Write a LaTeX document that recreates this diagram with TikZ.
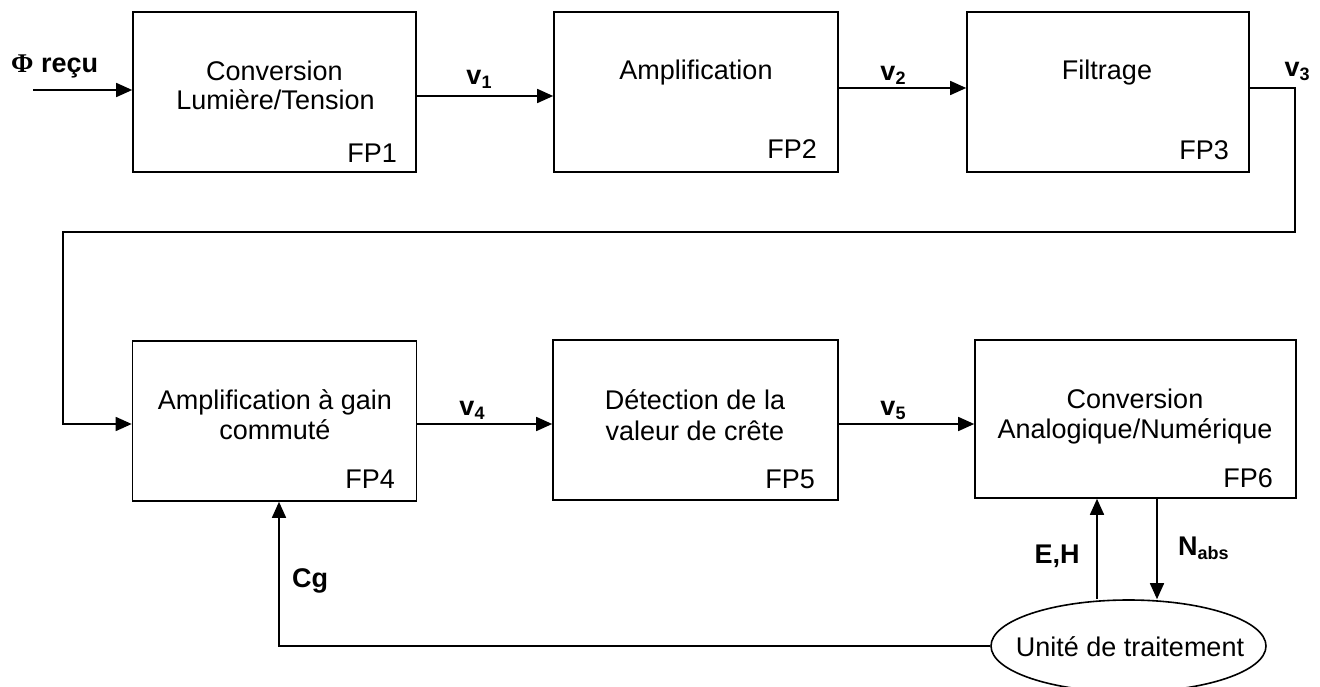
\documentclass[tikz,border=0pt]{standalone}
\usepackage{fontspec}
\setmainfont{Liberation Sans}
\newfontfamily\phifont{Liberation Serif}
\usetikzlibrary{arrows.meta,shapes.geometric}
\newcommand\sbs[1]{{\fontsize{18}{18}\selectfont\raisebox{-4pt}{#1}}}
\tikzset{
  blk/.style={draw, line width=1.6pt, inner sep=0pt, minimum height=160pt},
  txt/.style={font=\fontsize{27}{30}\selectfont, inner sep=0pt, anchor=base},
  fpl/.style={font=\fontsize{27}{30}\selectfont, inner sep=0pt, anchor=base east},
  lbl/.style={font=\fontsize{27}{30}\selectfont\bfseries, inner sep=0pt, anchor=base},
  wire/.style={line width=1.6pt},
  arr/.style={line width=1.6pt, -{Triangle[length=16pt,width=14pt]}},
}
\begin{document}
\begin{tikzpicture}[x=1pt,y=-1pt]
\useasboundingbox (0,0) rectangle (1320,687);
% blocks
\node[blk, minimum width=283pt] (fp1) at (274.5,92) {};
\node[blk, minimum width=284pt] (fp2) at (696,92) {};
\node[blk, minimum width=282pt] (fp3) at (1108,92) {};
\node[blk, minimum width=284pt] (fp4) at (274.5,421) {};
\node[blk, minimum width=285pt] (fp5) at (695.5,420) {};
\node[blk, minimum width=321pt, minimum height=158pt] (fp6) at (1135.5,419) {};
\node[draw, ellipse, line width=1.6pt, inner sep=0pt, minimum width=275pt, minimum height=92pt] (ut) at (1128.5,646) {};
\node[txt] (utt) at (1130,656) {Unité de traitement};
% block texts
\node[txt] (t1a) at (274.5,81) {Conversion};
\node[txt] (t1b) at (275.5,110) {Lumière/Tension};
\node[fpl] (l1) at (397,163) {FP1};
\node[txt] (t2) at (696,80) {Amplification};
\node[fpl] (l2) at (817,159) {FP2};
\node[txt] (t3) at (1107,80) {Filtrage};
\node[fpl] (l3) at (1229,160) {FP3};
\node[txt] (t4a) at (275,409) {Amplification à gain};
\node[txt] (t4b) at (275,439) {commuté};
\node[fpl] (l4) at (395,488) {FP4};
\node[txt] (t5a) at (695,409) {Détection de la};
\node[txt] (t5b) at (695,440) {valeur de crête};
\node[fpl] (l5) at (815,488) {FP5};
\node[txt] (t6a) at (1135,408) {Conversion};
\node[txt] (t6b) at (1135,438) {Analogique/Numérique};
\node[fpl] (l6) at (1273,487) {FP6};
% connectors
\coordinate (in) at (33,90);
\draw[arr] (in) -- (in -| fp1.west);
\draw[arr] (fp1.east |- 0,96) -- (fp2.west |- 0,96);
\draw[arr] (fp2.east |- 0,88) -- (fp3.west |- 0,88);
\coordinate (r1) at (1295,88);
\coordinate (r2) at (1295,232);
\coordinate (r3) at (63,232);
\coordinate (r4) at (63,424);
\draw[arr] (fp3.east |- r1) -- (r1) -- (r2) -- (r3) -- (r4) -- (r4 -| fp4.west);
\draw[arr] (fp4.east |- 0,424) -- (fp5.west |- 0,424);
\draw[arr] (fp5.east |- 0,424) -- (fp6.west |- 0,424);
\draw[arr] (ut.north -| 1097,0) -- (fp6.south -| 1097,0);
\draw[arr] (fp6.south -| 1157,0) -- (ut.north -| 1157,0);
\draw[arr] (ut.west) -- (ut.west -| 279,0) -- (fp4.south -| 279,0);
% labels
\node[lbl, anchor=base west] (phi) at (11,73) {{\phifont Φ} reçu};
\node[lbl] (v1) at (479,85) {v\sbs{1}};
\node[lbl] (v2) at (893,81) {v\sbs{2}};
\node[lbl] (v3) at (1297,77) {v\sbs{3}};
\node[lbl] (v4) at (472,415) {v\sbs{4}};
\node[lbl] (v5) at (893,415) {v\sbs{5}};
\node[lbl] (eh) at (1057,563) {E,H};
\node[lbl, anchor=base west] (nabs) at (1178,555) {N\sbs{abs}};
\node[lbl] (cg) at (310,587) {Cg};
\end{tikzpicture}
\end{document}
